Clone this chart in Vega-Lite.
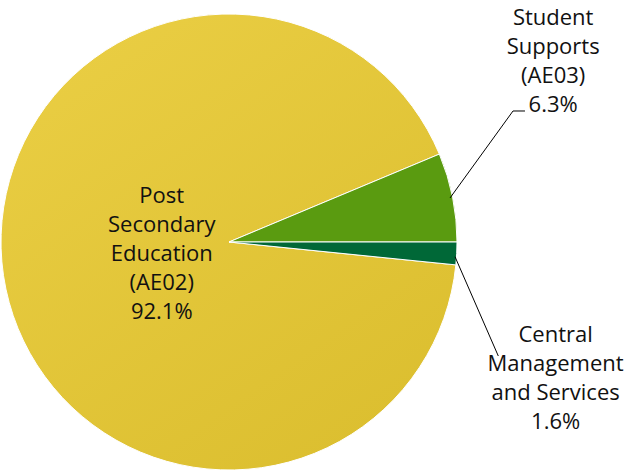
{
  "$schema": "https://vega.github.io/schema/vega-lite/v6.json",
  "width": 625,
  "height": 474,
  "padding": 0,
  "autosize": {"type": "none"},
  "background": "white",
  "config": {"view": {"stroke": null}},
  "data": {
    "values": [
      {"category": "Post Secondary Education (AE02)", "label": "Post\nSecondary\nEducation\n(AE02)\n92.1%", "value": 92.1},
      {"category": "Student Supports (AE03)", "label": "Student\nSupports\n(AE03)\n6.3%", "value": 6.3},
      {"category": "Central Management and Services", "label": "Central\nManagement\nand Services\n1.6%", "value": 1.6}
    ]
  },
  "encoding": {
    "x": {"datum": 0, "type": "quantitative", "scale": {"domain": [-1.0044, 1.7368]}, "axis": null},
    "y": {"datum": 0, "type": "quantitative", "scale": {"domain": [-1.0175, 1.0614]}, "axis": null}
  },
  "layer": [
    {
      "mark": {"type": "arc", "outerRadius": 228, "stroke": "white", "strokeWidth": 1},
      "encoding": {
        "theta": {"field": "value", "type": "quantitative", "stack": true, "scale": {"range": [1.5707963, 7.8539816]}},
        "order": {"field": "category", "sort": "ascending"},
        "fill": {
          "condition": {
            "test": "datum.category === 'Post Secondary Education (AE02)'",
            "value": {"gradient": "linear", "x1": 0, "y1": 0, "x2": 0.7, "y2": 1, "stops": [{"offset": 0, "color": "#EBCF45"}, {"offset": 1, "color": "#DCBF30"}]}
          },
          "field": "category",
          "type": "nominal",
          "scale": {"domain": ["Post Secondary Education (AE02)", "Student Supports (AE03)", "Central Management and Services"], "range": ["#E3C53B", "#5A9B10", "#006837"]},
          "legend": null
        }
      }
    },
    {
      "mark": {"type": "text", "radius": 68, "dy": -56, "font": "Open Sans", "fontSize": 22, "lineHeight": 29, "lineBreak": "\n", "color": "#111111", "align": "center", "baseline": "middle"},
      "encoding": {
        "theta": {"field": "value", "type": "quantitative", "stack": true},
        "order": {"field": "category", "sort": "ascending"},
        "text": {"condition": {"test": "datum.category === 'Post Secondary Education (AE02)'", "field": "label"}, "value": ""}
      }
    },
    {
      "mark": {"type": "text", "radius": 300, "dx": 30, "dy": -165.5, "font": "Open Sans", "fontSize": 22, "lineHeight": 29, "lineBreak": "\n", "color": "#111111", "align": "center", "baseline": "middle"},
      "encoding": {
        "theta": {"field": "value", "type": "quantitative", "stack": true},
        "order": {"field": "category", "sort": "ascending"},
        "text": {"condition": {"test": "datum.category === 'Student Supports (AE03)'", "field": "label"}, "value": ""}
      }
    },
    {
      "mark": {"type": "text", "radius": 300, "dx": 27, "dy": 78, "font": "Open Sans", "fontSize": 22, "lineHeight": 29, "lineBreak": "\n", "color": "#111111", "align": "center", "baseline": "middle"},
      "encoding": {
        "theta": {"field": "value", "type": "quantitative", "stack": true},
        "order": {"field": "category", "sort": "ascending"},
        "text": {"condition": {"test": "datum.category === 'Central Management and Services'", "field": "label"}, "value": ""}
      }
    },
    {
      "data": {"values": [{"leader": "Student Supports (AE03)"}]},
      "mark": {"type": "rule", "color": "#000000", "strokeWidth": 1},
      "encoding": {
        "x": {"datum": 0.9693, "type": "quantitative"},
        "y": {"datum": 0.1930, "type": "quantitative"},
        "x2": {"datum": 1.2456},
        "y2": {"datum": 0.5746}
      }
    },
    {
      "data": {"values": [{"leader": "Student Supports (AE03)"}]},
      "mark": {"type": "rule", "color": "#000000", "strokeWidth": 1},
      "encoding": {
        "x": {"datum": 1.2456, "type": "quantitative"},
        "y": {"datum": 0.5746, "type": "quantitative"},
        "x2": {"datum": 1.2982},
        "y2": {"datum": 0.5746}
      }
    },
    {
      "data": {"values": [{"leader": "Central Management and Services"}]},
      "mark": {"type": "rule", "color": "#000000", "strokeWidth": 1},
      "encoding": {
        "x": {"datum": 0.9912, "type": "quantitative"},
        "y": {"datum": -0.0645, "type": "quantitative"},
        "x2": {"datum": 1.1811},
        "y2": {"datum": -0.5}
      }
    }
  ]
}
